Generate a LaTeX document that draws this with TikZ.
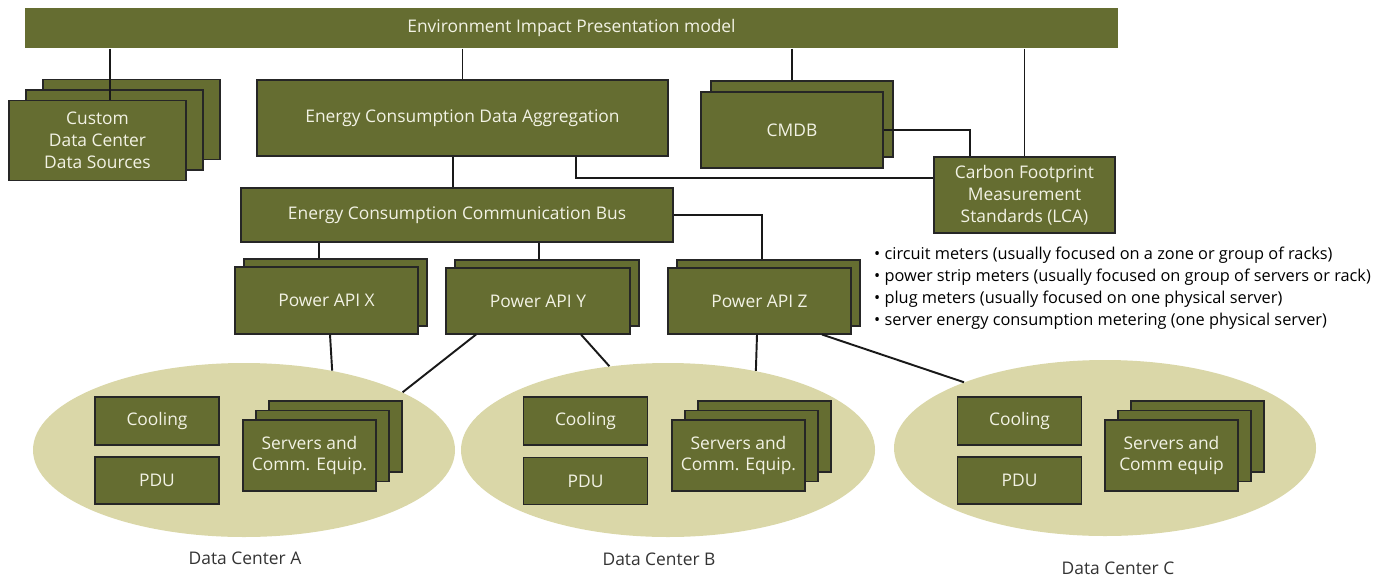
\documentclass[tikz,border=0pt]{standalone}
\usepackage{fontspec}
\setmainfont{Open Sans}
\usepackage{tikz}
\usetikzlibrary{shapes.geometric, positioning}
\definecolor{OliveBox}{RGB}{101,109,49}
\definecolor{Khaki}{RGB}{218,215,168}
\definecolor{BoxText}{RGB}{242,242,228}

\begin{document}
\begin{tikzpicture}[x=0.02cm, y=-0.02cm,
    every node/.style={font=\fontsize{9.9}{12.4}\selectfont},
    box/.style={draw=black!85, fill=OliveBox, text=BoxText, align=center, inner sep=0pt, line width=0.6pt},
    wh/.style 2 args={minimum width=#1*0.02cm, minimum height=#2*0.02cm},
    site/.style={ellipse, fill=Khaki, inner sep=0pt},
    wire/.style={line width=1.1pt, draw=black!90},
    dcname/.style={text=black!80}]

  \useasboundingbox (0,0) rectangle (1381,578);

  % top row
  \node[box, draw=none, wh={1093}{40}] (env) at (571.5,28) {Environment Impact Presentation model};

  \node[box, wh={177}{80}] (cust3) at (131.5,119.5) {};
  \node[box, wh={177}{80}] (cust2) at (114.5,130) {};
  \node[box, wh={177}{80}] (cust)  at (97.5,140.5) {Custom\\Data Center\\Data Sources};

  \node[box, wh={411}{76}] (agg) at (462.5,118) {Energy Consumption Data Aggregation};

  \node[box, wh={182}{76}] (cmdb2) at (802,119) {};
  \node[box, wh={182}{76}] (cmdb)  at (792,130) {CMDB};

  \node[box, wh={181}{76}] (lca) at (1024.5,195) {Carbon Footprint\\Measurement\\Standards (LCA)};

  \node[box, wh={432}{54}] (bus) at (457,215) {Energy Consumption Communication Bus};

  % power APIs
  \node[box, wh={183}{67}] (apiX2) at (335.5,292.5) {};
  \node[box, wh={183}{67}] (apiX)  at (326.5,300.5) {Power API X};
  \node[box, wh={184}{66}] (apiY2) at (547,293) {};
  \node[box, wh={184}{66}] (apiY)  at (538,301) {Power API Y};
  \node[box, wh={183}{66}] (apiZ2) at (768.5,293) {};
  \node[box, wh={183}{66}] (apiZ)  at (759.5,301) {Power API Z};

  \node[align=left, anchor=north west, font=\fontsize{9.3}{12.4}\selectfont] (meters) at (868,241)
    {• circuit meters (usually focused on a zone or group of racks)\\
     • power strip meters (usually focused on group of servers or rack)\\
     • plug meters (usually focused on one physical server)\\
     • server energy consumption metering (one physical server)};

  % data centers
  \node[site, minimum width=422*0.02cm, minimum height=174*0.02cm] (dcA) at (244,450) {};
  \node[site, minimum width=414*0.02cm, minimum height=174*0.02cm] (dcB) at (668,450) {};
  \node[site, minimum width=422*0.02cm, minimum height=176*0.02cm] (dcC) at (1105,448) {};

  \node[box, wh={124}{48}] (coolA) at (157,421) {Cooling};
  \node[box, wh={124}{47}] (pduA)  at (157,480.5) {PDU};
  \node[box, wh={133}{71}] (srvA3) at (335.5,436.5) {};
  \node[box, wh={133}{71}] (srvA2) at (322.5,446) {};
  \node[box, wh={133}{71}] (srvA)  at (309.5,455.5) {Servers and\\Comm. Equip.};

  \node[box, wh={124}{48}] (coolB) at (585.5,421) {Cooling};
  \node[box, wh={124}{47}] (pduB)  at (585.5,481) {PDU};
  \node[box, wh={133}{71}] (srvB3) at (764.5,436.5) {};
  \node[box, wh={133}{71}] (srvB2) at (751.5,446) {};
  \node[box, wh={133}{71}] (srvB)  at (738.5,455.5) {Servers and\\Comm. Equip.};

  \node[box, wh={124}{48}] (coolC) at (1019.5,421) {Cooling};
  \node[box, wh={124}{47}] (pduC)  at (1019.5,480.5) {PDU};
  \node[box, wh={133}{71}] (srvC3) at (1197.5,436.5) {};
  \node[box, wh={133}{71}] (srvC2) at (1184.5,446) {};
  \node[box, wh={133}{71}] (srvC)  at (1171.5,455.5) {Servers and\\Comm equip};

  \node[dcname] (nameA) at (245,558) {Data Center A};
  \node[dcname] (nameB) at (659,559) {Data Center B};
  \node[dcname] (nameC) at (1118,568) {Data Center C};

  % connectors
  \draw[wire] (env.south -| 110,0) -- (cust.north -| 110,0);
  \draw[wire] (env.south -| agg.north) -- (agg.north);
  \draw[wire] (env.south -| cmdb.north) -- (cmdb2.north -| cmdb.north);
  \draw[wire] (env.south -| lca.north) -- (lca.north);
  \draw[wire] (cmdb.east) -| (lca.north -| 970,0);
  \draw[wire] (agg.south -| 576,0) |- (lca.west |- 0,178);
  \draw[wire] (agg.south -| 453,0) -- (bus.north -| 453,0);
  \draw[wire] (bus.east) -| (apiZ2.north -| 762,0);
  \draw[wire] (bus.south -| 319,0) -- (apiX2.north -| 319,0);
  \draw[wire] (bus.south -| 539,0) -- (apiY2.north -| 539,0);
  \draw[wire] (apiX.south -| 330,0) -- (dcA.42.75);
  \draw[wire] (apiY.south -| 476,0) -- (dcA.20);
  \draw[wire] (apiY.south -| 581,0) -- (dcB.125.3);
  \draw[wire] (apiZ.south -| 757,0) -- (dcB.42.2);
  \draw[wire] (apiZ.south -| 822,0) -- (dcC.155.7);
\end{tikzpicture}
\end{document}
